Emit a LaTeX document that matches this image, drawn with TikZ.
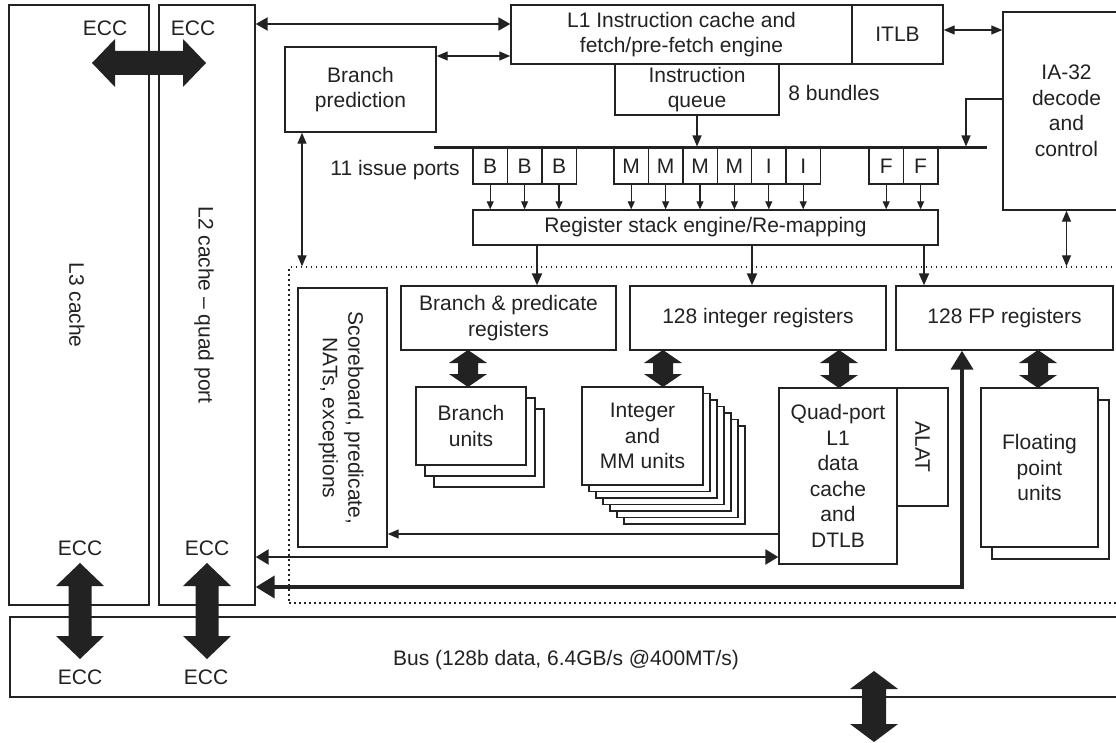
\documentclass[tikz,border=0pt]{standalone}
\usepackage{fontspec}
\setmainfont{Liberation Sans}
\usetikzlibrary{arrows.meta,calc}
\definecolor{ink}{HTML}{222222}
\newcommand\fatV[6]{% x, ytop, ybot, halfshaft, halfhead, headlen
  \fill[ink] (#1,#2) -- ({#1+#5},{#2+#6}) -- ({#1+#4},{#2+#6}) -- ({#1+#4},{#3-#6}) -- ({#1+#5},{#3-#6}) -- (#1,#3)
   -- ({#1-#5},{#3-#6}) -- ({#1-#4},{#3-#6}) -- ({#1-#4},{#2+#6}) -- ({#1-#5},{#2+#6}) -- cycle;}
\newcommand\fatH[6]{% y, xleft, xright, halfshaft, halfhead, headlen
  \fill[ink] (#2,#1) -- ({#2+#6},{#1-#5}) -- ({#2+#6},{#1-#4}) -- ({#3-#6},{#1-#4}) -- ({#3-#6},{#1-#5}) -- (#3,#1)
   -- ({#3-#6},{#1+#5}) -- ({#3-#6},{#1+#4}) -- ({#2+#6},{#1+#4}) -- ({#2+#6},{#1+#5}) -- cycle;}
\tikzset{
  x=1pt, y=-1pt,
  txt/.style={font=\fontsize{21}{25.5}\selectfont, text=ink, inner sep=0pt, align=center},
  box/.style={draw=ink, line width=1.4pt, fill=white, txt},
  stackbox/.style={draw=ink, line width=1.4pt, fill=white},
  smallarr/.style={draw=ink, line width=1.1pt, -{Triangle[length=8pt,width=7pt]}},
  medarr/.style={draw=ink, line width=2pt, -{Triangle[length=12pt,width=10pt]}},
  thinarr/.style={draw=ink, line width=1.3pt, {Triangle[length=11pt,width=9pt]}-{Triangle[length=11pt,width=9pt]}},
  thinone/.style={draw=ink, line width=1.3pt, -{Triangle[length=11pt,width=9pt]}},
  toparr/.style={draw=ink, line width=2.2pt, {Triangle[length=12pt,width=13pt]}-{Triangle[length=12pt,width=13pt]}},
  midarr/.style={draw=ink, line width=2.6pt, {Triangle[length=13pt,width=15pt]}-{Triangle[length=13pt,width=15pt]}},
  thickarr/.style={draw=ink, line width=4pt, {Triangle[length=19pt,width=22pt]}-{Triangle[length=19pt,width=22pt]}},
}
\begin{document}
\begin{tikzpicture}
\useasboundingbox (0,0) rectangle (1116,743);
\clip (0,0) rectangle (1116,743);
\fill[white] (0,0) rectangle (1116,743);

% helper coordinates
\coordinate (y24) at (0,24);
\coordinate (y30) at (0,30);
\coordinate (y56) at (0,56);
\coordinate (y534) at (0,534);
\coordinate (y557) at (0,557);
\coordinate (y587) at (0,587);
\coordinate (x302) at (302,0);
\coordinate (x537) at (537,0);
\coordinate (x752) at (752,0);
\coordinate (x924) at (924,0);
\coordinate (x962) at (962,0);
\coordinate (k1) at (966,99);
\coordinate (k2) at (966,146.5);

% dotted core region and bus
\node[draw=ink, line width=1.3pt, dash pattern=on 1.5pt off 3.5pt, minimum width=841pt, minimum height=336pt, inner sep=0pt] (core) at (709.5,435) {};
\node[stackbox, minimum width=1120pt, minimum height=80pt, inner sep=0pt] (bus) at (570,657) {};
\node[txt] at (566,660) {Bus (128b data, 6.4GB/s @400MT/s)};

% caches
\node[box, minimum width=140pt, minimum height=600pt] (l3) at (79,305) {};
\node[txt, rotate=-90] at (77,305) {L3 cache};
\node[box, minimum width=96pt, minimum height=600pt] (l2) at (207,305) {};
\node[txt, rotate=-90] at (204,305) {L2 cache – quad port};

\node[txt] at (105,28) {ECC};
\node[txt] at (193,28) {ECC};
\node[txt] at (80,548) {ECC};
\node[txt] at (207,548) {ECC};
\node[txt] at (80,677) {ECC};
\node[txt] at (206,677) {ECC};

% front end
\node[box, minimum width=341pt, minimum height=59pt] (l1) at (681.5,34.5) {L1 Instruction cache and\\fetch/pre-fetch engine};
\node[box, minimum width=91pt, minimum height=59pt] (itlb) at (897.5,34.5) {ITLB};
\node[box, minimum width=151pt, minimum height=85pt] (bp) at (360.5,89.5) {Branch\\prediction};
\node[box, minimum width=164pt, minimum height=51pt] (iq) at (697,89.5) {Instruction\\queue};
\node[txt] at (834,93) {8 bundles};
\node[box, minimum width=127pt, minimum height=198pt] (ia) at (1066.5,111) {IA-32\\decode\\and\\control};

% issue bar and ports
\draw[ink, line width=3pt] (434,148) -- (987,148);
\node[txt] at (395,170) {11 issue ports};
\node[box, minimum width=465pt, minimum height=35pt] (rs) at (705.5,227.5) {Register stack engine/Re-mapping};
\foreach \x/\l [count=\i] in {473/B,507.4/B,541.8/B,614/M,648.4/M,682.8/M,717.2/M,751.6/I,786/I,869/F,903.4/F} {
  \node[box, minimum width=34.4pt, minimum height=36pt] (p\i) at (\x+17.2,166) {\l};
  \draw[smallarr] (p\i.south) -- (p\i.south |- rs.north);
}

% registers
\node[box, minimum width=215pt, minimum height=64pt] (bpr) at (508.5,318) {Branch \& predicate\\registers};
\node[box, minimum width=256pt, minimum height=64pt] (ir) at (758,318) {128 integer registers};
\node[box, minimum width=217pt, minimum height=64pt] (fpr) at (1004.5,318) {128 FP registers};

% scoreboard
\node[box, minimum width=89pt, minimum height=259pt] (sb) at (342.5,417.5) {};
\node[txt, rotate=-90] at (341,418) {Scoreboard, predicate,\\NATs, exceptions};

% units
\foreach \k in {2,1} {
  \draw[stackbox] ({416+9*\k},{387+11*\k}) rectangle ({526+9*\k},{465+11*\k});
}
\node[box, minimum width=110pt, minimum height=78pt] (bu) at (471,426) {Branch\\units};
\foreach \k in {6,5,4,3,2,1} {
  \draw[stackbox] ({582+7*\k},{387+6.5*\k}) rectangle ({703+7*\k},{485+6.5*\k});
}
\node[box, minimum width=121pt, minimum height=98pt] (iu) at (642.5,436) {Integer\\and\\MM units};
\node[box, minimum width=118pt, minimum height=176pt] (qp) at (838,476) {Quad-port\\L1\\data\\cache\\and\\DTLB};
\node[box, minimum width=51pt, minimum height=118pt] (alat) at (922.5,447) {};
\node[txt, rotate=-90] at (922.5,447) {ALAT};
\draw[stackbox] (992,400) rectangle (1109,559);
\node[box, minimum width=117pt, minimum height=159pt] (fu) at (1039.5,467.5) {Floating\\point\\units};

% connectors
\draw[toparr] (l2.east |- y24) -- (l1.west |- y24);
\draw[thinarr] (bp.east |- y56) -- (l1.west |- y56);
\draw[thinarr] (x302 |- bp.south) -- (x302 |- core.north);
\draw[thinarr] (itlb.east |- y30) -- (ia.west |- y30);
\draw[thinone] (ia.west |- k1) -- (k1) -- (k2);
\draw[thinarr] (ia.south) -- (ia.south |- core.north);
\draw[thinone] (iq.south) -- (iq.south |- k2);
\draw[medarr] (x537 |- rs.south) -- (x537 |- bpr.north);
\draw[medarr] (x752 |- rs.south) -- (x752 |- ir.north);
\draw[medarr] (x924 |- rs.south) -- (x924 |- fpr.north);
\draw[thinone] (qp.west |- y534) -- (sb.east |- y534);
\draw[midarr] (l2.east |- y557) -- (qp.west |- y557);
\draw[thickarr] (l2.east |- y587) -- (x962 |- y587) -- (x962 |- fpr.south);

% fat data paths
\fatH{63}{92}{206}{12}{24}{23}
\fatV{80}{563}{659}{11.5}{24}{23}
\fatV{207}{563}{659}{11.5}{24}{23}
\fatV{874}{671}{742}{12}{24}{18}
\fatV{468}{350}{387}{10}{19}{13}
\fatV{663}{350}{387}{10}{19}{13}
\fatV{839}{350}{388}{10}{19}{13}
\fatV{1038}{350}{388}{10}{19}{13}
\end{tikzpicture}
\end{document}
